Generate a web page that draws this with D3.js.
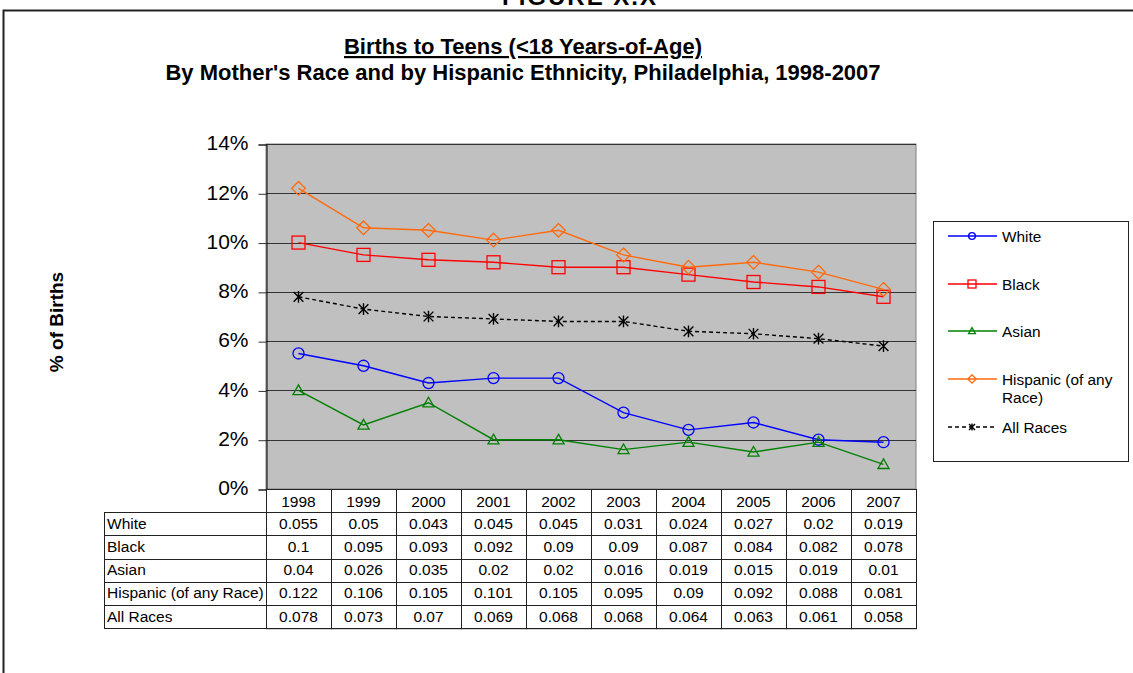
<!DOCTYPE html>
<html>
<head>
<meta charset="utf-8">
<script src="https://cdn.jsdelivr.net/npm/d3@7"></script>
<style>
  body { margin: 0; background: #fff; }
  svg { display: block; font-family: Arial, "Liberation Sans", sans-serif; }
</style>
</head>
<body>
<div id="chart"></div>
<script>
const years = ["1998", "1999", "2000", "2001", "2002", "2003", "2004", "2005", "2006", "2007"];
const white = [0.055, 0.05, 0.043, 0.045, 0.045, 0.031, 0.024, 0.027, 0.02, 0.019];
const black = [0.1, 0.095, 0.093, 0.092, 0.09, 0.09, 0.087, 0.084, 0.082, 0.078];
const asian = [0.04, 0.026, 0.035, 0.02, 0.02, 0.016, 0.019, 0.015, 0.019, 0.01];
const hispanic = [0.122, 0.106, 0.105, 0.101, 0.105, 0.095, 0.09, 0.092, 0.088, 0.081];
const allRaces = [0.078, 0.073, 0.07, 0.069, 0.068, 0.068, 0.064, 0.063, 0.061, 0.058];
const yTicks = [0, 0.02, 0.04, 0.06, 0.08, 0.1, 0.12, 0.14];

const series = [
  { name: "White", label: ["White"], values: white, color: "#0000ff", symbol: "circle", dash: null },
  { name: "Black", label: ["Black"], values: black, color: "#ff0000", symbol: "square", dash: null },
  { name: "Asian", label: ["Asian"], values: asian, color: "#008000", symbol: "triangle", dash: null },
  { name: "Hispanic (of any Race)", label: ["Hispanic (of any", "Race)"], values: hispanic, color: "#ff6a0d", symbol: "diamond", dash: null },
  { name: "All Races", label: ["All Races"], values: allRaces, color: "#000000", symbol: "star", dash: "4,3" }
];

const W = 1133, H = 673;
const plot = { left: 266, right: 916, top: 144, bottom: 489 };
const rowH = 23.2;
const labelLeft = 104;

const svg = d3.select("#chart").append("svg")
  .attr("width", W)
  .attr("height", H);

// outer frame (runs off the right and bottom)
svg.append("rect")
  .attr("x", 3.5).attr("y", 10.5)
  .attr("width", W + 10).attr("height", H + 10)
  .attr("fill", "none").attr("stroke", "#222").attr("stroke-width", 2);

// figure heading, cut off at the very top like the source page
svg.append("text")
  .attr("x", 580).attr("y", 5)
  .attr("text-anchor", "middle")
  .attr("font-size", 24).attr("font-weight", "bold")
  .attr("letter-spacing", 2)
  .text("FIGURE X.X");

// titles
svg.append("text")
  .attr("x", 523).attr("y", 54)
  .attr("text-anchor", "middle")
  .attr("font-size", 22).attr("font-weight", "bold")
  .attr("text-decoration", "underline")
  .text("Births to Teens (<18 Years-of-Age)");
svg.append("text")
  .attr("x", 523).attr("y", 80)
  .attr("text-anchor", "middle")
  .attr("font-size", 22).attr("font-weight", "bold")
  .text("By Mother's Race and by Hispanic Ethnicity, Philadelphia, 1998-2007");

// scales
const x = d3.scaleBand()
  .domain(years)
  .range([plot.left, plot.right]);
const y = d3.scaleLinear()
  .domain([0, 0.14])
  .range([plot.bottom, plot.top]);

// plot background
svg.append("rect")
  .attr("x", plot.left).attr("y", plot.top)
  .attr("width", plot.right - plot.left).attr("height", plot.bottom - plot.top)
  .attr("fill", "#c0c0c0")
  .attr("stroke", "#808080").attr("stroke-width", 1);

// grid lines
svg.append("g")
  .selectAll("line")
  .data(yTicks.filter(d => d > 0))
  .join("line")
  .attr("x1", plot.left).attr("x2", plot.right)
  .attr("y1", d => Math.round(y(d)) + 0.5).attr("y2", d => Math.round(y(d)) + 0.5)
  .attr("stroke", "#333").attr("stroke-width", 1);

// y axis
const yAxis = d3.axisLeft(y)
  .tickValues(yTicks)
  .tickFormat(d3.format(".0%"))
  .tickSize(8)
  .tickPadding(10);
const yAxisG = svg.append("g")
  .attr("transform", "translate(" + (plot.left + 0.5) + ",0.5)")
  .call(yAxis);
yAxisG.select(".domain").attr("stroke", "#000");
yAxisG.selectAll(".tick line").attr("stroke", "#333");
yAxisG.selectAll(".tick text")
  .attr("font-family", "Arial, 'Liberation Sans', sans-serif")
  .attr("font-size", 21).attr("fill", "#000").attr("dy", "0.25em");

// y label
svg.append("text")
  .attr("transform", "translate(63,322) rotate(-90)")
  .attr("text-anchor", "middle")
  .attr("font-size", 19).attr("font-weight", "bold")
  .text("% of Births");

// marker drawing helper
function drawMarker(g, symbol, color, s) {
  if (symbol === "circle") {
    g.append("circle").attr("r", s * 0.85)
      .attr("fill", "none").attr("stroke", color).attr("stroke-width", 1.3);
  } else if (symbol === "square") {
    g.append("rect").attr("x", -s).attr("y", -s).attr("width", 2 * s).attr("height", 2 * s)
      .attr("fill", "none").attr("stroke", color).attr("stroke-width", 1.3);
  } else if (symbol === "triangle") {
    const t = s * 0.85;
    g.append("path").attr("d", `M0,${-t}L${t},${t * 0.75}L${-t},${t * 0.75}Z`)
      .attr("fill", "none").attr("stroke", color).attr("stroke-width", 1.3);
  } else if (symbol === "diamond") {
    const t = s * 1.05;
    g.append("path").attr("d", `M0,${-t}L${t},0L0,${t}L${-t},0Z`)
      .attr("fill", "none").attr("stroke", color).attr("stroke-width", 1.3);
  } else if (symbol === "star") {
    const t = s * 0.75;
    g.append("path")
      .attr("d", `M${-t},${-t}L${t},${t}M${-t},${t}L${t},${-t}M0,${-t * 1.2}L0,${t * 1.2}`)
      .attr("stroke", color).attr("stroke-width", 1.4);
  }
}

const cx = d => x(d) + x.bandwidth() / 2;
const line = d3.line()
  .x((v, i) => cx(years[i]))
  .y(v => y(v));

// series lines and markers
series.forEach(s => {
  svg.append("path")
    .datum(s.values)
    .attr("d", line)
    .attr("fill", "none")
    .attr("stroke", s.color)
    .attr("stroke-width", 1.4)
    .attr("stroke-dasharray", s.dash);
  s.values.forEach((v, i) => {
    const g = svg.append("g").attr("transform", `translate(${cx(years[i])},${y(v)})`);
    drawMarker(g, s.symbol, s.color, 6.5);
  });
});

// data table
const table = svg.append("g").attr("font-size", 15.5);
const tableBottom = plot.bottom + rowH * (series.length + 1);

// header row (years)
years.forEach(yr => {
  table.append("rect")
    .attr("x", x(yr) + 0.5).attr("y", plot.bottom + 0.5)
    .attr("width", x.bandwidth()).attr("height", rowH * (series.length + 1))
    .attr("fill", "none").attr("stroke", "#222");
  table.append("text")
    .attr("x", cx(yr)).attr("y", plot.bottom + rowH / 2 + 6)
    .attr("text-anchor", "middle")
    .text(yr);
});

// row lines and labels
series.forEach((s, r) => {
  const top = plot.bottom + rowH * (r + 1);
  table.append("line")
    .attr("x1", labelLeft).attr("x2", plot.right)
    .attr("y1", Math.round(top) + 0.5).attr("y2", Math.round(top) + 0.5)
    .attr("stroke", "#222");
  table.append("text")
    .attr("x", labelLeft + 3).attr("y", top + rowH / 2 + 5)
    .text(s.name);
  s.values.forEach((v, i) => {
    table.append("text")
      .attr("x", cx(years[i])).attr("y", top + rowH / 2 + 5)
      .attr("text-anchor", "middle")
      .text(v);
  });
});
table.append("line")
  .attr("x1", labelLeft).attr("x2", plot.right)
  .attr("y1", Math.round(tableBottom) + 0.5).attr("y2", Math.round(tableBottom) + 0.5)
  .attr("stroke", "#222");
table.append("line")
  .attr("x1", labelLeft + 0.5).attr("x2", labelLeft + 0.5)
  .attr("y1", plot.bottom + rowH).attr("y2", tableBottom)
  .attr("stroke", "#222");

// legend
const legend = svg.append("g");
legend.append("rect")
  .attr("x", 933.5).attr("y", 221.5)
  .attr("width", 195).attr("height", 240)
  .attr("fill", "#fff").attr("stroke", "#222");
const legendY = [236, 284, 331, 379, 427];
series.forEach((s, i) => {
  const ly = legendY[i];
  legend.append("line")
    .attr("x1", 948).attr("x2", 997)
    .attr("y1", ly).attr("y2", ly)
    .attr("stroke", s.color).attr("stroke-width", 1.3)
    .attr("stroke-dasharray", s.dash);
  const g = legend.append("g").attr("transform", `translate(972,${ly})`);
  drawMarker(g, s.symbol, s.color, 4);
  s.label.forEach((t, j) => {
    legend.append("text")
      .attr("x", 1002).attr("y", ly + 5.5 + j * 18)
      .attr("font-size", 15.4)
      .text(t);
  });
});
</script>
</body>
</html>
